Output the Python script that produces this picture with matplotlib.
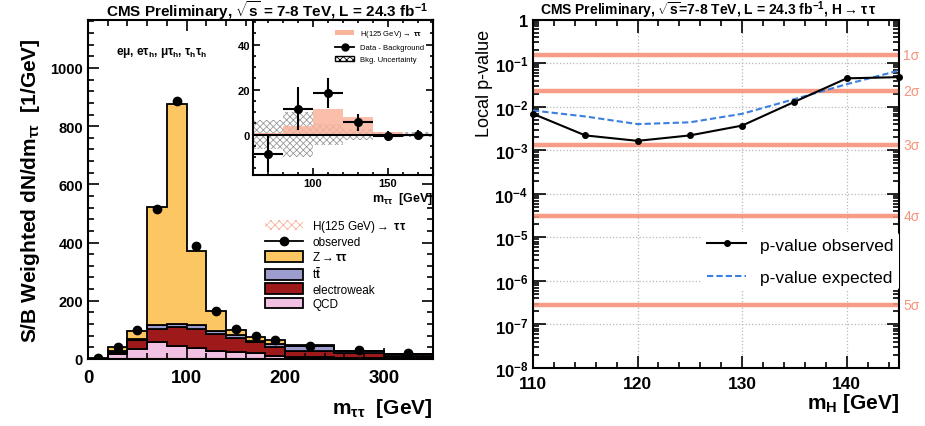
import numpy as np
import matplotlib
matplotlib.use('Agg')
import matplotlib.pyplot as plt
from matplotlib.patches import Patch
from matplotlib.lines import Line2D
from matplotlib.ticker import MultipleLocator, LogLocator, NullFormatter

plt.rcParams['font.family'] = ['Liberation Sans', 'DejaVu Sans']
plt.rcParams['mathtext.fontset'] = 'custom'
plt.rcParams['mathtext.rm'] = 'Liberation Sans:bold'
plt.rcParams['mathtext.it'] = 'Liberation Sans:bold'
plt.rcParams['mathtext.bf'] = 'Liberation Sans:bold'
plt.rcParams['mathtext.default'] = 'bf'
plt.rcParams['hatch.linewidth'] = 0.6

# ---- left panel: m_tautau distribution (S/B weighted)
edges = [0, 20, 40, 60, 80, 100, 120, 140, 160, 180, 200, 250, 300, 350]
qcd = [0, 17, 34, 57, 46, 37, 29, 23, 19, 9, 6, 3, 2]
ewk = [1, 8, 32, 46, 63, 66, 57, 48, 38, 31, 23, 16, 9]
ttbar = [0, 2, 2, 14, 11, 12, 11, 11, 6, 12, 17, 8, 5]
ztt = [1, 13, 29, 404, 756, 255, 67, 18, 14, 13, 2, 2, 1]
obs = [3, 40, 101, 515, 888, 387, 166, 103, 78, 66, 46, 31, 20]

# ---- inset: data minus background
in_edges = [60, 80, 100, 120, 140, 160, 180]
in_sig = [0.5, 4, 11.5, 8, 1, 0]
in_unc = [6.5, 10, 4.5, 2.5, 1, 1]
in_x = [70, 90, 110, 130, 150, 170]
in_y = [-8.5, 11.5, 18.5, 5.5, -0.5, 0]
in_yerr = [8, 9.5, 6.5, 3.7, 2.2, 2]

# ---- right panel: local p-values
mh = [110, 115, 120, 125, 130, 135, 140, 145]
p_obs = [6.9e-3, 2.2e-3, 1.65e-3, 2.2e-3, 3.7e-3, 1.3e-2, 4.5e-2, 4.8e-2]
p_exp = [8.2e-3, 6.0e-3, 4.0e-3, 4.4e-3, 6.9e-3, 1.5e-2, 3.3e-2, 6.8e-2]
sig_p = [0.1587, 0.02275, 1.35e-3, 3.17e-5, 2.87e-7]
sig_lab = ['1σ', '2σ', '3σ', '4σ', '5σ']

c_z = '#fcc763'
c_tt = '#9c9ccf'
c_ewk = '#9e1a1a'
c_qcd = '#f2c0e2'
c_sig = '#f9b49c'
c_sigma = '#f7937a'


def root_ticks(ax, length=7):
    ax.tick_params(which='both', direction='in', top=True, right=True, width=1.2)
    ax.tick_params(which='major', length=length)
    ax.tick_params(which='minor', length=length / 2)
    for s in ax.spines.values():
        s.set_linewidth(1.5)


fig = plt.figure(figsize=(9.25, 4.27), dpi=100)

ax = fig.add_axes([0.0951, 0.157, 0.373, 0.794])
base = np.zeros(len(qcd))
for vals, col in [(qcd, c_qcd), (ewk, c_ewk), (ttbar, c_tt), (ztt, c_z)]:
    top = base + np.array(vals)
    ax.stairs(top, edges, baseline=base, fill=True, facecolor=col,
              edgecolor='black', linewidth=1.3)
    base = top
centers = 0.5 * (np.array(edges[:-1]) + np.array(edges[1:]))
ax.plot(centers, obs, 'o', color='black', ms=6)
ax.set_xlim(0, 350)
ax.set_ylim(0, 1165)
ax.xaxis.set_major_locator(MultipleLocator(100))
ax.xaxis.set_minor_locator(MultipleLocator(20))
ax.yaxis.set_major_locator(MultipleLocator(200))
ax.yaxis.set_minor_locator(MultipleLocator(40))
root_ticks(ax, 8)
ax.tick_params(axis='x', labelsize=13.5, pad=7)
ax.tick_params(axis='y', labelsize=10.5)
for lab in ax.get_xticklabels() + ax.get_yticklabels():
    lab.set_fontweight('bold')
ax.set_ylabel(r'S/B Weighted dN/dm$_{\tau\tau}$  [1/GeV]', fontsize=15,
              fontweight='bold', labelpad=6)
ax.set_xlabel(r'm$_{\tau\tau}$  [GeV]', fontsize=15, fontweight='bold')
ax.xaxis.set_label_coords(1.0, -0.11)
ax.xaxis.label.set_horizontalalignment('right')
ax.text(0.08, 0.9, r'e$\mu$, e$\tau_h$, $\mu\tau_h$, $\tau_h\tau_h$',
        transform=ax.transAxes, fontsize=8.5, fontweight='bold')
fig.text(0.289, 0.975, r'CMS Preliminary, $\sqrt{s}$ = 7-8 TeV, L = 24.3 fb$^{-1}$',
         ha='center', va='center', fontsize=11, fontweight='bold')

handles = [Patch(facecolor='none', edgecolor=c_sig, hatch='xxxx', lw=0),
           Line2D([], [], color='black', marker='o', ms=6, lw=1.3),
           Patch(facecolor=c_z, edgecolor='black', lw=1.3),
           Patch(facecolor=c_tt, edgecolor='black', lw=1.3),
           Patch(facecolor=c_ewk, edgecolor='black', lw=1.3),
           Patch(facecolor=c_qcd, edgecolor='black', lw=1.3)]
labels = [r'H(125 GeV)$\rightarrow$ $\tau\tau$', 'observed', r'Z$\rightarrow\tau\tau$',
          r't$\bar{\rm t}$', 'electroweak', 'QCD']
leg = ax.legend(handles, labels, loc='upper left', bbox_to_anchor=(0.5, 0.43),
                frameon=False, fontsize=8.5, handlelength=3.2, handleheight=1.0,
                labelspacing=0.18, borderaxespad=0)

# inset
ins = fig.add_axes([0.2735, 0.5878, 0.1946, 0.363])
unc = np.array(in_unc)
ins.stairs(unc, in_edges, baseline=-unc, fill=True, facecolor='white',
           edgecolor='#9a9a9a', hatch='xxxxx', linewidth=0)
ins.stairs(in_sig, in_edges, fill=True, facecolor=c_sig, alpha=0.85, linewidth=0)
ins.axhline(0, color='black', lw=1.5)
ins.errorbar(in_x, in_y, xerr=10, yerr=in_yerr, fmt='o', color='black',
             ms=5.5, lw=1.5, capsize=0)
ins.set_xlim(60, 180)
ins.set_ylim(-18, 51)
ins.xaxis.set_major_locator(MultipleLocator(50))
ins.xaxis.set_minor_locator(MultipleLocator(10))
ins.yaxis.set_major_locator(MultipleLocator(20))
ins.yaxis.set_minor_locator(MultipleLocator(5))
root_ticks(ins, 5)
ins.tick_params(labelsize=8, pad=2)
for lab in ins.get_xticklabels() + ins.get_yticklabels():
    lab.set_fontweight('bold')
ins.set_xlabel(r'm$_{\tau\tau}$  [GeV]', fontsize=9, fontweight='bold')
ins.xaxis.set_label_coords(1.0, -0.095)
ins.xaxis.label.set_horizontalalignment('right')
ih = [Patch(facecolor=c_sig, edgecolor='none'),
      Line2D([], [], color='black', marker='o', ms=5, lw=1.3),
      Patch(facecolor='white', edgecolor='black', hatch='xxxxx', lw=1.0)]
il = [r'H(125 GeV)$\rightarrow$ $\tau\tau$', 'Data - Background', 'Bkg. Uncertainty']
ins.legend(ih, il, loc='upper right', bbox_to_anchor=(0.99, 0.99), frameon=False,
           prop={'size': 5.5}, handlelength=2.5, labelspacing=0.6)

# right panel
ax2 = fig.add_axes([0.5762, 0.1358, 0.3957, 0.8157])
ax2.set_yscale('log')
ax2.set_xlim(110, 145)
ax2.set_ylim(1e-8, 1)
ax2.grid(True, which='major', color='#b8b8b8', linestyle=':', linewidth=0.9)
for p, lab in zip(sig_p, sig_lab):
    ax2.axhline(p, color=c_sigma, lw=3.2, alpha=0.9, zorder=2)
    ax2.text(1.012, p, lab, transform=ax2.get_yaxis_transform(), color=c_sigma,
             fontsize=10, va='center', ha='left')
ax2.plot(mh, p_exp, color='#3b7fe0', ls='--', lw=1.5, dashes=(3, 1.5), zorder=3,
         label='p-value expected')
ax2.plot(mh, p_obs, color='black', lw=1.5, marker='o', ms=4, zorder=4,
         label='p-value observed', clip_on=False)
ax2.xaxis.set_major_locator(MultipleLocator(10))
ax2.xaxis.set_minor_locator(MultipleLocator(2))
ax2.yaxis.set_major_locator(LogLocator(base=10, numticks=12))
ax2.yaxis.set_minor_locator(LogLocator(base=10, subs=np.arange(2, 10), numticks=12))
ax2.yaxis.set_minor_formatter(NullFormatter())
root_ticks(ax2, 9)
ax2.tick_params(axis='x', labelsize=12.5, pad=6)
ax2.tick_params(axis='y', labelsize=12)
ax2.set_yticks([10.0 ** k for k in range(-8, 1)])
ax2.set_yticklabels(['$10^{-%d}$' % k for k in range(8, 0, -1)] + ['1'])
for lab in ax2.get_xticklabels() + ax2.get_yticklabels():
    lab.set_fontweight('bold')
ax2.set_ylabel('Local p-value', fontsize=13)
ax2.yaxis.set_label_coords(-0.11, 0.82)
ax2.set_xlabel(r'm$_H$ [GeV]', fontsize=15, fontweight='bold')
ax2.xaxis.set_label_coords(1.0, -0.065)
ax2.xaxis.label.set_horizontalalignment('right')
h, l = ax2.get_legend_handles_labels()
lg = ax2.legend(h[::-1], l[::-1], loc='upper left', bbox_to_anchor=(0.46, 0.39),
                frameon=True, fontsize=12.5, handlelength=2.3, labelspacing=1.0,
                borderaxespad=0, borderpad=0.3)
lg.get_frame().set_edgecolor('none')
lg.get_frame().set_facecolor('white')
lg.get_frame().set_alpha(1)
fig.text(0.766, 0.975,
         r'CMS Preliminary, $\sqrt{s}$=7-8 TeV, L = 24.3 fb$^{-1}$, H$\rightarrow\tau\,\tau$',
         ha='center', va='center', fontsize=10, fontweight='bold')

fig.savefig('out.png', dpi=100)
